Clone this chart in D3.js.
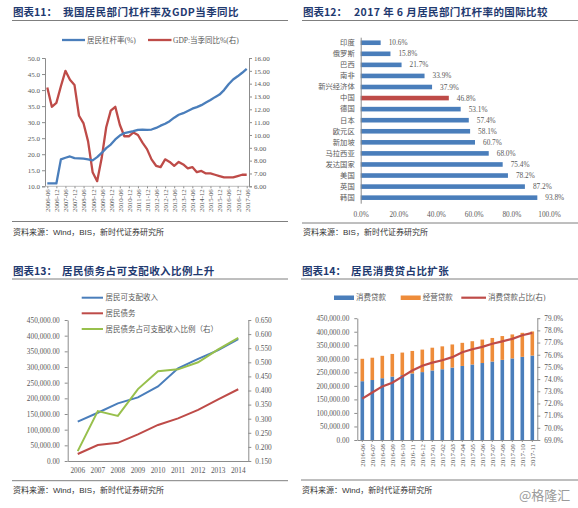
<!DOCTYPE html>
<html><head><meta charset="utf-8">
<script src="https://cdn.jsdelivr.net/npm/d3@7"></script>
<style>body{margin:0;background:#fff}svg{display:block}</style>
</head><body>
<svg id="c" width="578" height="508"></svg>
<script>
// ---------- Panel 11 data ----------
const p1Dates = ["2006-06","2006-09","2006-12",
 "2007-03","2007-06","2007-09","2007-12","2008-03","2008-06","2008-09","2008-12",
 "2009-03","2009-06","2009-09","2009-12","2010-03","2010-06","2010-09","2010-12",
 "2011-03","2011-06","2011-09","2011-12","2012-03","2012-06","2012-09","2012-12",
 "2013-03","2013-06","2013-09","2013-12","2014-03","2014-06","2014-09","2014-12",
 "2015-03","2015-06","2015-09","2015-12","2016-03","2016-06","2016-09","2016-12",
 "2017-03","2017-06"];
const p1Leverage = [10.9,10.9,10.9,18.4,18.9,19.3,18.8,18.7,18.6,18.4,18.1,
 19.1,20.4,21.9,23.0,24.6,25.8,26.6,26.9,27.2,27.6,27.7,27.6,27.7,28.2,28.9,29.5,
 30.3,31.4,32.3,32.8,33.5,34.2,34.7,35.3,36.1,36.9,37.8,38.6,40.0,41.8,43.3,44.3,
 45.4,46.6];
const p1GDP = [13.7,12.2,12.5,13.8,15.0,14.3,13.9,11.5,10.9,9.5,7.1,
 6.4,8.2,10.6,11.9,12.2,10.8,9.9,9.9,10.2,10.0,9.4,8.9,8.1,7.6,7.5,8.1,
 7.9,7.6,7.9,7.7,7.4,7.5,7.1,7.2,7.0,7.0,6.9,6.8,6.7,6.7,6.7,6.8,6.9,6.9];
const p1LeftTicks = [10,15,20,25,30,35,40,45,50];
const p1RightTicks = [6,7,8,9,10,11,12,13,14,15,16];

// ---------- Panel 12 data ----------
const p2Cats = ["印度","俄罗斯","巴西","南非","新兴经济体","中国","德国","日本","欧元区","新加坡","马拉西亚","发达国家","美国","英国","韩国"];
const p2Vals = [10.6,15.8,21.7,33.9,37.9,46.8,53.1,57.4,58.1,60.7,68.0,75.4,78.2,87.2,93.8];
const p2Ticks = [0,20,40,60,80,100];

// ---------- Panel 13 data ----------
const p3Years = ["2006","2007","2008","2009","2010","2011","2012","2013","2014"];
const p3Income = [125500,154000,184000,203000,238000,296000,326000,354000,389000];
const p3Debt = [22300,51000,58000,85000,115000,136000,163000,197000,229000];
const p3Ratio = [0.185,0.327,0.310,0.405,0.468,0.475,0.500,0.546,0.587];
const p3LeftTicks = [0,50000,100000,150000,200000,250000,300000,350000,400000,450000];
const p3RightTicks = [0.15,0.2,0.25,0.3,0.35,0.4,0.45,0.5,0.55,0.6,0.65];

// ---------- Panel 14 data ----------
const p4Months = ["2016-06","2016-07","2016-08","2016-09","2016-10","2016-11","2016-12",
 "2017-01","2017-02","2017-03","2017-04","2017-05","2017-06","2017-07","2017-08","2017-09","2017-10","2017-11"];
const p4Consumer = [217200,221600,228300,234400,239700,245800,250800,256900,261400,267600,273600,279000,284400,289900,296100,301500,307300,312000];
const p4Business = [82800,82400,82700,83600,83300,83200,83200,84100,84600,85400,85400,86000,86600,87100,87900,88500,88700,89000];
const p4Share = [72.4,72.9,73.4,73.7,74.2,74.7,75.1,75.35,75.55,75.8,76.2,76.45,76.65,76.9,77.1,77.3,77.6,77.8];
const p4LeftTicks = [0,50000,100000,150000,200000,250000,300000,350000,400000,450000];
const p4RightTicks = [69,70,71,72,73,74,75,76,77,78,79];

// ---------- styles ----------
const C_BLUE = "#4A7EBB", C_RED = "#BE4B48", C_GREEN = "#98C04C", C_ORANGE = "#EE8C3A";
const TITLE_C = "#1F3A70";
const NUM_FONT = "'Liberation Serif','Noto Sans CJK SC',serif";
const CJK_FONT = "'Noto Sans CJK SC','Liberation Serif',serif";
const AX_C = "#8C8C8C", TXT_C = "#595959";

const svg = d3.select("#c");
svg.append("rect").attr("width",578).attr("height",508).attr("fill","#fff");

function styleAxis(g, fs){
  g.attr("font-family", NUM_FONT).attr("font-size", fs||7);
  g.select(".domain").attr("stroke", AX_C);
  g.selectAll(".tick line").attr("stroke", AX_C);
  g.selectAll(".tick text").attr("fill", TXT_C);
  return g;
}
function frame(x0, x1, yTitle, yTop, yBot, ySrc, prefix, main, mainX, src){
  svg.append("text").attr("x", x0+1).attr("y", yTitle).attr("fill", TITLE_C)
    .attr("font-family", CJK_FONT).attr("font-weight","bold").attr("font-size",10.5).text(prefix);
  svg.append("text").attr("x", mainX).attr("y", yTitle).attr("fill", TITLE_C)
    .attr("font-family", CJK_FONT).attr("font-weight","bold").attr("font-size",10.5)
    .attr("letter-spacing", 0.4).text(main);
  svg.append("line").attr("x1", x0).attr("x2", x1).attr("y1", yTop).attr("y2", yTop).attr("stroke","#7F7F7F").attr("stroke-width",1);
  svg.append("line").attr("x1", x0).attr("x2", x1).attr("y1", yBot).attr("y2", yBot).attr("stroke","#7F7F7F").attr("stroke-width",1);
  svg.append("text").attr("x", x0+1).attr("y", ySrc).attr("fill","#333")
    .attr("font-family","'Liberation Sans','Noto Sans CJK SC',sans-serif").attr("font-size",8).text(src);
}

// ================= Panel 11 =================
frame(12, 288, 16, 20.5, 221.5, 235, "图表11：", "我国居民部门杠杆率及GDP当季同比", 63, "资料来源：Wind，BIS，新时代证券研究所");
{
  const x = d3.scalePoint().domain(p1Dates).range([47.3, 246.7]);
  const yL = d3.scaleLinear().domain([10,50]).range([186.3,58]);
  const yR = d3.scaleLinear().domain([6,16]).range([186.3,58]);
  styleAxis(svg.append("g").attr("transform","translate(45,0)")
    .call(d3.axisLeft(yL).tickValues(p1LeftTicks).tickFormat(d3.format(".1f")).tickSizeOuter(0).tickSize(3).tickPadding(2)));
  styleAxis(svg.append("g").attr("transform","translate(249,0)")
    .call(d3.axisRight(yR).tickValues(p1RightTicks).tickFormat(d3.format(".2f")).tickSizeOuter(0).tickSize(3).tickPadding(2)));
  const gx = svg.append("g").attr("transform","translate(0,186.3)")
    .call(d3.axisBottom(x).tickValues(p1Dates.filter(d => /-(06|12)$/.test(d))).tickSize(2).tickSizeOuter(0));
  styleAxis(gx, 6.8);
  gx.select(".domain").attr("d","M45,0H249").attr("stroke","#BFBFBF");
  gx.selectAll(".tick text").attr("transform","rotate(-90)").attr("x",-3).attr("y",0)
    .attr("dy","0.35em").attr("text-anchor","end");
  const lineL = d3.line().x((d,i)=>x(p1Dates[i])).y(d=>yL(d));
  const lineR = d3.line().x((d,i)=>x(p1Dates[i])).y(d=>yR(d));
  svg.append("path").datum(p1GDP).attr("d", lineR).attr("fill","none").attr("stroke",C_RED).attr("stroke-width",2.3).attr("stroke-linejoin","round");
  svg.append("path").datum(p1Leverage).attr("d", lineL).attr("fill","none").attr("stroke",C_BLUE).attr("stroke-width",2.3).attr("stroke-linejoin","round");
  // legend
  const lg = svg.append("g").attr("font-family", NUM_FONT).attr("font-size",7.5).attr("fill",TXT_C);
  lg.append("line").attr("x1",62).attr("x2",85).attr("y1",40).attr("y2",40).attr("stroke",C_BLUE).attr("stroke-width",2.3);
  lg.append("text").attr("x",87).attr("y",42.6).text("居民杠杆率(%)");
  lg.append("line").attr("x1",148).attr("x2",171.5).attr("y1",40).attr("y2",40).attr("stroke",C_RED).attr("stroke-width",2.3);
  lg.append("text").attr("x",173).attr("y",42.6).text("GDP:当季同比%(右)");
}

// ================= Panel 12 =================
frame(302, 578, 16, 20.5, 223, 235, "图表12：", "2017 年 6 月居民部门杠杆率的国际比较", 354, "资料来源：BIS，新时代证券研究所");
{
  const y = d3.scaleBand().domain(p2Cats).range([37.2, 203.2]);
  const x = d3.scaleLinear().domain([0,100]).range([360.7, 549]);
  const bh = 4.6;
  svg.append("g").selectAll("rect").data(p2Vals).join("rect")
    .attr("x", x(0)).attr("y", (d,i)=> y(p2Cats[i]) + y.bandwidth()/2 - bh/2)
    .attr("width", d => x(d)-x(0)).attr("height", bh)
    .attr("fill", (d,i)=> p2Cats[i]==="中国" ? C_RED : C_BLUE);
  svg.append("g").selectAll("text").data(p2Vals).join("text")
    .attr("x", d => x(d)+8).attr("y", (d,i)=> y(p2Cats[i]) + y.bandwidth()/2 + 2.5)
    .attr("font-family", NUM_FONT).attr("font-size",7.3).attr("fill",TXT_C)
    .text(d => d3.format(".1f")(d)+"%");
  const gy = svg.append("g").attr("transform","translate(360.7,0)")
    .call(d3.axisLeft(y).tickSize(0).tickPadding(6));
  styleAxis(gy, 7.3);
  gy.attr("font-family", CJK_FONT);
  const gx = svg.append("g").attr("transform","translate(0,209)")
    .call(d3.axisBottom(x).tickValues(p2Ticks).tickSize(0).tickFormat(d=>d3.format(".1f")(d)+"%"));
  styleAxis(gx, 7.3);
  gx.select(".domain").remove();
}

// ================= Panel 13 =================
frame(12, 288, 275, 279, 480.7, 493, "图表13：", "居民债务占可支配收入比例上升", 62, "资料来源：Wind，BIS，新时代证券研究所");
{
  const xb = d3.scaleBand().domain(p3Years).range([67.7, 248.3]);
  const cx = d => xb(d) + xb.bandwidth()/2;
  const yL = d3.scaleLinear().domain([0,450000]).range([461,320]);
  const yR = d3.scaleLinear().domain([0.15,0.65]).range([461,320]);
  styleAxis(svg.append("g").attr("transform","translate(67.7,0)")
    .call(d3.axisLeft(yL).tickValues(p3LeftTicks).tickFormat(d3.format(",.2f")).tickSize(3).tickSizeOuter(0).tickPadding(5)), 7.3);
  styleAxis(svg.append("g").attr("transform","translate(248.3,0)")
    .call(d3.axisRight(yR).tickValues(p3RightTicks).tickFormat(d3.format(".3f")).tickSize(3).tickSizeOuter(0).tickPadding(4)), 7.3);
  const gx = svg.append("g").attr("transform","translate(0,461)")
    .call(d3.axisBottom(xb).tickSize(0).tickPadding(7).tickSizeOuter(0));
  styleAxis(gx, 7.3);
  const line = (ys) => d3.line().x((d,i)=>cx(p3Years[i])).y(d=>ys(d));
  svg.append("path").datum(p3Debt).attr("d", line(yL)).attr("fill","none").attr("stroke",C_RED).attr("stroke-width",2);
  svg.append("path").datum(p3Income).attr("d", line(yL)).attr("fill","none").attr("stroke",C_BLUE).attr("stroke-width",2);
  svg.append("path").datum(p3Ratio).attr("d", line(yR)).attr("fill","none").attr("stroke",C_GREEN).attr("stroke-width",2);
  const lg = svg.append("g").attr("font-family", NUM_FONT).attr("font-size",7.5).attr("fill",TXT_C);
  [["居民可支配收入",C_BLUE,297.7],["居民债务",C_RED,313.3],["居民债务占可支配收入比例（右）",C_GREEN,329]].forEach(([t,c,yy])=>{
    lg.append("line").attr("x1",81.7).attr("x2",103).attr("y1",yy).attr("y2",yy).attr("stroke",c).attr("stroke-width",2);
    lg.append("text").attr("x",105.5).attr("y",yy+2.6).text(t);
  });
}

// ================= Panel 14 =================
frame(301, 578, 275, 279, 480, 493, "图表14：", "居民消费贷占比扩张", 351, "资料来源：Wind，新时代证券研究所");
{
  const xb = d3.scaleBand().domain(p4Months).range([357.3, 537.3]);
  const cx = d => xb(d) + xb.bandwidth()/2;
  const yL = d3.scaleLinear().domain([0,450000]).range([440,318.2]);
  const yR = d3.scaleLinear().domain([69,79]).range([440,318.2]);
  const bw = 3.6;
  svg.append("g").selectAll("rect").data(p4Consumer).join("rect")
    .attr("x",(d,i)=>cx(p4Months[i])-bw/2).attr("width",bw)
    .attr("y", d=>yL(d)).attr("height", d=>yL(0)-yL(d)).attr("fill", C_BLUE);
  svg.append("g").selectAll("rect").data(p4Business).join("rect")
    .attr("x",(d,i)=>cx(p4Months[i])-bw/2).attr("width",bw)
    .attr("y", (d,i)=>yL(d+p4Consumer[i])).attr("height", (d,i)=>yL(p4Consumer[i])-yL(d+p4Consumer[i])).attr("fill", C_ORANGE);
  styleAxis(svg.append("g").attr("transform","translate(357.3,0)")
    .call(d3.axisLeft(yL).tickValues(p4LeftTicks).tickFormat(d3.format(",.2f")).tickSize(3).tickSizeOuter(0).tickPadding(5)), 7.3);
  styleAxis(svg.append("g").attr("transform","translate(537.3,0)")
    .call(d3.axisRight(yR).tickValues(p4RightTicks).tickFormat(d=>d3.format(".1f")(d)+"%").tickSize(3).tickSizeOuter(0).tickPadding(4)), 7.3);
  const gx = svg.append("g").attr("transform","translate(0,440)")
    .call(d3.axisBottom(xb).tickSize(2).tickSizeOuter(0));
  styleAxis(gx, 6.8);
  gx.selectAll(".tick text").attr("transform","rotate(-90)").attr("x",-4).attr("y",0)
    .attr("dy","0.35em").attr("text-anchor","end");
  svg.append("path").datum(p4Share).attr("d", d3.line().x((d,i)=>cx(p4Months[i])).y(d=>yR(d)))
    .attr("fill","none").attr("stroke",C_RED).attr("stroke-width",2.2);
  const lg = svg.append("g").attr("font-family", NUM_FONT).attr("font-size",7.5).attr("fill",TXT_C);
  lg.append("rect").attr("x",334).attr("y",295.5).attr("width",20).attr("height",4.5).attr("fill",C_BLUE);
  lg.append("text").attr("x",356).attr("y",300.3).text("消费贷款");
  lg.append("rect").attr("x",400.7).attr("y",295.5).attr("width",20).attr("height",4.5).attr("fill",C_ORANGE);
  lg.append("text").attr("x",422.7).attr("y",300.3).text("经营贷款");
  lg.append("line").attr("x1",461.3).attr("x2",486).attr("y1",297.7).attr("y2",297.7).attr("stroke",C_RED).attr("stroke-width",2.2);
  lg.append("text").attr("x",488).attr("y",300.3).text("消费贷款占比(右)");
}
// watermark
svg.append("text").attr("x",519).attr("y",500).attr("fill","#9A9A9A")
  .attr("font-family","'Noto Sans CJK SC',sans-serif").attr("font-size",13).text("@格隆汇");
</script>
</body></html>
